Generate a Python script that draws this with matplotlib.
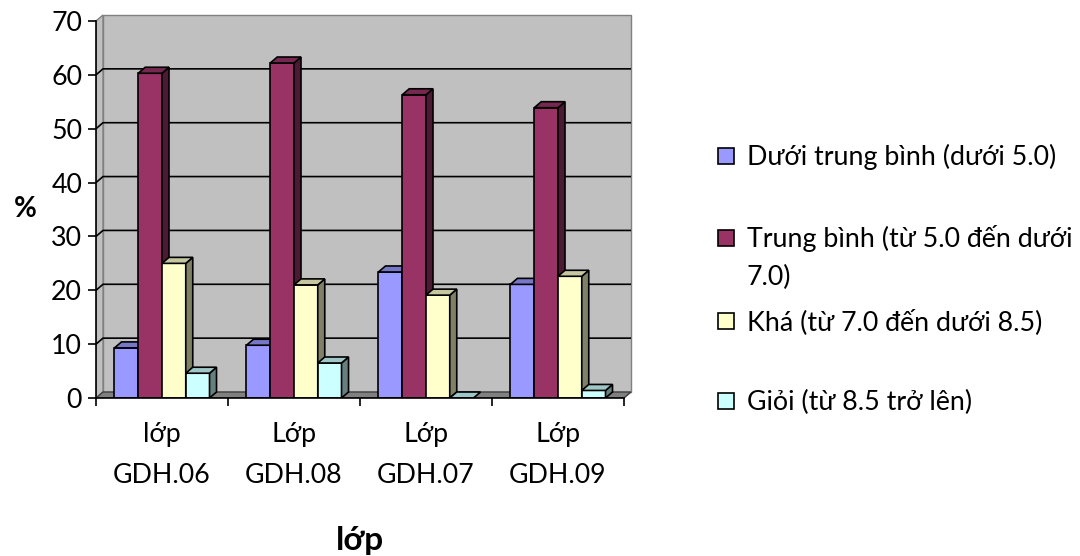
import matplotlib
matplotlib.use("Agg")
import matplotlib.pyplot as plt
from matplotlib.patches import Polygon, Rectangle

# ---- data -------------------------------------------------------------
categories = ["lớp\nGDH.06", "Lớp\nGDH.08", "Lớp\nGDH.07", "Lớp\nGDH.09"]
series_names = [
    "Dưới trung bình (dưới 5.0)",
    "Trung bình (từ 5.0 đến dưới\n7.0)",
    "Khá (từ 7.0 đến dưới 8.5)",
    "Giỏi (từ 8.5 trở lên)",
]
duoi_trung_binh = [9.3, 9.8, 23.4, 21.1]
trung_binh = [60.3, 62.2, 56.3, 53.9]
kha = [25.0, 21.0, 19.1, 22.6]
gioi = [4.6, 6.5, 0.0, 1.4]
y_ticks = [0, 10, 20, 30, 40, 50, 60, 70]

series = [duoi_trung_binh, trung_binh, kha, gioi]
face_colors = ["#9999FF", "#993366", "#FFFFCC", "#CCFFFF"]

plt.rcParams["font.family"] = ["Lato", "DejaVu Sans"]
FS = 19.3

# ---- figure / axes geometry (pixels) ---------------------------------
W, H = 1080, 556
fig = plt.figure(figsize=(W / 100, H / 100), dpi=100)
fig.patch.set_facecolor("white")

px_per_cat = 132.0
px_per_unit = 377.0 / 70.0
x0_px, y0_px = 96, 158
xmax, ymax = 4.1, 71.5
ax = fig.add_axes([x0_px / W, y0_px / H,
                   xmax * px_per_cat / W, ymax * px_per_unit / H])
ax.set_xlim(0, xmax)
ax.set_ylim(0, ymax)
ax.patch.set_visible(False)

# depth of the pseudo-3D box, in data units
dx = 7.0 / px_per_cat
dy = 6.0 / px_per_unit
ncat = len(categories)
ytop = y_ticks[-1]


def shade(hex_color, f):
    r, g, b = matplotlib.colors.to_rgb(hex_color)
    return (r * f, g * f, b * f)


# walls and floor
ax.add_patch(Rectangle((dx, dy), ncat, ytop, facecolor="#C0C0C0",
                       edgecolor="#808080", lw=1.0, zorder=1))
ax.add_patch(Polygon([(0, 0), (dx, dy), (dx, ytop + dy), (0, ytop)],
                     closed=True, facecolor="#C0C0C0", edgecolor="#808080",
                     lw=1.0, zorder=1))
ax.add_patch(Polygon([(0, 0), (ncat, 0), (ncat + dx, dy), (dx, dy)],
                     closed=True, facecolor="#808080", edgecolor="#404040",
                     lw=1.0, zorder=1.5))

# gridlines on the side and back walls
for v in y_ticks[1:-1]:
    ax.plot([0, dx, ncat + dx], [v, v + dy, v + dy], color="black",
            lw=1.2, zorder=2, solid_capstyle="butt")

# 3D-looking columns
bar_w = 0.18
group_start = 0.14
z = 3
for ci in range(ncat):
    for si, vals in enumerate(series):
        h = vals[ci]
        x = ci + group_start + si * bar_w
        col = face_colors[si]
        ek = dict(edgecolor="black", lw=1.2, joinstyle="miter")
        if h > 0:
            ax.add_patch(Rectangle((x, 0), bar_w, h, facecolor=col,
                                   zorder=z, **ek))
            ax.add_patch(Polygon([(x + bar_w, 0), (x + bar_w + dx, dy),
                                  (x + bar_w + dx, h + dy), (x + bar_w, h)],
                                 closed=True, facecolor=shade(col, 0.5),
                                 zorder=z, **ek))
        ax.add_patch(Polygon([(x, h), (x + bar_w, h),
                              (x + bar_w + dx, h + dy), (x + dx, h + dy)],
                             closed=True, facecolor=shade(col, 0.78),
                             zorder=z, **ek))
        z += 0.01

# axes lines and ticks
for side in ("top", "right"):
    ax.spines[side].set_visible(False)
ax.spines["left"].set_bounds(0, ytop)
ax.spines["bottom"].set_bounds(0, ncat)
for side in ("left", "bottom"):
    ax.spines[side].set_linewidth(1.2)
    ax.spines[side].set_zorder(10)

ax.set_yticks(y_ticks)
ax.set_yticklabels([str(v) for v in y_ticks])
ax.tick_params(axis="y", direction="out", length=6, width=1.2,
               labelsize=FS, pad=4)

ax.set_xticks(range(ncat + 1))
ax.set_xticklabels([""] * (ncat + 1))
ax.tick_params(axis="x", which="major", direction="out", length=6, width=1.2)
ax.set_xticks([i + 0.5 for i in range(ncat)], minor=True)
ax.set_xticklabels(categories, minor=True, fontsize=FS, linespacing=1.82)
ax.tick_params(axis="x", which="minor", length=0, pad=17)

# axis titles
fig.text(25 / W, 1 - 209 / H, "%", fontsize=20, fontweight="bold",
         ha="center", va="center")
fig.text(360 / W, 1 - 550 / H, "lớp", fontsize=24, fontweight="bold",
         ha="center", va="baseline")

# legend (square + one text line per row; baselines in pixels)
legend_baselines = [[165], [247, 285], [330], [410]]
for name, col, rows in zip(series_names, face_colors, legend_baselines):
    fig.patches.append(Rectangle((718 / W, 1 - (rows[0] - 1) / H),
                                 16 / W, 16 / H,
                                 transform=fig.transFigure, figure=fig,
                                 facecolor=col, edgecolor="black", lw=1.2))
    for line, yb in zip(name.split("\n"), rows):
        fig.text(747 / W, 1 - yb / H, line, fontsize=FS, ha="left",
                 va="baseline")

fig.savefig("out.png", dpi=100)
